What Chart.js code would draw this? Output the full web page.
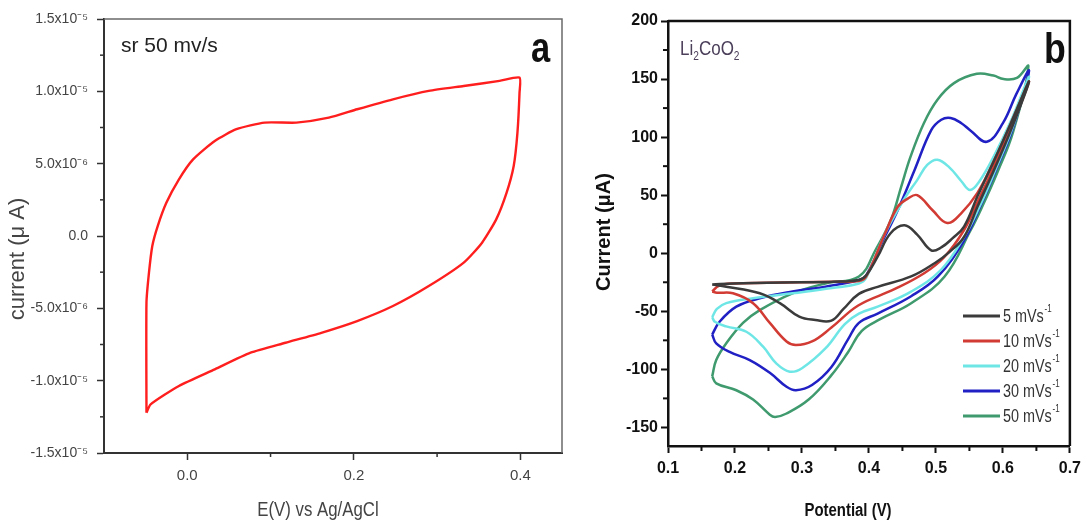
<!DOCTYPE html>
<html>
<head>
<meta charset="utf-8">
<title>Cyclic voltammetry</title>
<script src="https://cdn.jsdelivr.net/npm/chart.js@4.4.1/dist/chart.umd.min.js"></script>
<style>
  html, body { margin: 0; padding: 0; background: #fff; }
  body { position: relative; width: 1087px; height: 522px; overflow: hidden; }
  canvas { position: absolute; top: 0; }
  #cvA { left: 0; }
  #cvB { left: 580px; }
</style>
</head>
<body>
<canvas id="cvA" width="580" height="522"></canvas>
<canvas id="cvB" width="507" height="522"></canvas>
<script>
const SANS = "'Liberation Sans', Arial, sans-serif";

// ---- panel a : one cycle at 50 mV/s, potential (V) / current (A) ----
const potA = [-0.049, -0.049, -0.046, -0.042, -0.0355, -0.025, -0.01, 0.007, 0.033, 0.059, 0.093, 0.131,
  0.17, 0.204, 0.247, 0.29, 0.332, 0.375, 0.399, 0.399, 0.3965, 0.392, 0.3835, 0.371, 0.354, 0.332,
  0.29, 0.247, 0.204, 0.161, 0.118, 0.076, 0.033, -0.01, -0.044, -0.049];
const curA = [-12.22e-6, -4.61e-6, -2.54e-6, -0.69e-6, 0.69e-6, 2.31e-6, 3.92e-6, 5.3e-6, 6.57e-6, 7.38e-6, 7.84e-6, 7.84e-6,
  8.18e-6, 8.76e-6, 9.45e-6, 10.03e-6, 10.37e-6, 10.72e-6, 10.95e-6, 9.91e-6, 7.15e-6, 4.84e-6, 3.0e-6, 1.15e-6, -0.46e-6, -1.84e-6,
  -3.46e-6, -4.84e-6, -5.88e-6, -6.69e-6, -7.38e-6, -8.07e-6, -9.22e-6, -10.37e-6, -11.64e-6, -12.22e-6];

const aXTicks = [0, 0.1, 0.2, 0.3, 0.4];
const aXLabels = ['0.0', '', '0.2', '', '0.4'];
const aYTicks = [-15e-6, -12.5e-6, -10e-6, -7.5e-6, -5e-6, -2.5e-6, 0, 2.5e-6, 5e-6, 7.5e-6, 10e-6, 12.5e-6, 15e-6];
const aYLabels = ['-1.5x10⁻⁵', '', '-1.0x10⁻⁵', '', '-5.0x10⁻⁶', '', '0.0', '', '5.0x10⁻⁶', '', '1.0x10⁻⁵', '', '1.5x10⁻⁵'];

// ---- panel b : Li2CoO2 at five scan rates, potential (V) / current (uA) ----
const rates = ['5', '10', '20', '30', '50'];
const rateColors = ['#3b3b3b', '#d23b33', '#6fe6e6', '#2020c4', '#3f9a6e'];

const pot5 = [0.166, 0.198, 0.248, 0.297, 0.347, 0.385, 0.396, 0.413, 0.432, 0.453, 0.472, 0.493, 0.508, 0.525, 0.542, 0.562, 0.587, 0.612, 0.639,
  0.612, 0.587, 0.562, 0.542, 0.52, 0.498, 0.463, 0.413, 0.385, 0.362, 0.344, 0.32, 0.296, 0.267, 0.237, 0.187, 0.166];
const cur5 = [-27, -26, -25.5, -25, -24.5, -23, -19, -3, 17, 24, 16, 2.5, 5, 13, 23, 49, 80, 112, 148,
  106, 72, 40, 14, 1, -8.6, -20, -29, -35, -48, -58, -57.5, -54.6, -43, -34.5, -28.8, -27];

const pot10 = [0.166, 0.176, 0.198, 0.248, 0.297, 0.347, 0.385, 0.396, 0.424, 0.443, 0.458, 0.472, 0.495, 0.517, 0.537, 0.562, 0.587, 0.612, 0.639,
  0.612, 0.587, 0.562, 0.542, 0.513, 0.483, 0.438, 0.384, 0.344, 0.315, 0.291, 0.277, 0.252, 0.227, 0.197, 0.173, 0.166];
const cur10 = [-33, -28, -26, -25.5, -25, -24.5, -24, -20, 17, 40, 47, 50, 37, 26, 34, 52, 80, 112, 148,
  108, 75, 44, 20, -3, -17, -31, -45, -64, -76, -79, -76, -60, -43, -34.5, -34, -33];

const pot20 = [0.166, 0.173, 0.187, 0.227, 0.286, 0.345, 0.385, 0.396, 0.424, 0.453, 0.472, 0.487, 0.502, 0.52, 0.538, 0.551, 0.565, 0.587, 0.612, 0.639,
  0.613, 0.589, 0.565, 0.542, 0.508, 0.463, 0.413, 0.385, 0.364, 0.335, 0.3, 0.282, 0.262, 0.242, 0.217, 0.187, 0.17, 0.166];
const cur20 = [-55, -48, -43, -38.8, -34.5, -30, -26, -21, 17, 47, 63, 76, 80.5, 74, 62, 54.5, 62, 84, 114, 152,
  106, 72, 40, 14, -14, -33, -46, -52, -61, -82, -99, -102, -95, -80.5, -67.6, -63, -59, -55];

const pot30 = [0.166, 0.177, 0.202, 0.237, 0.286, 0.335, 0.385, 0.396, 0.42, 0.443, 0.468, 0.493, 0.508, 0.522, 0.538, 0.551, 0.576, 0.6, 0.62, 0.639,
  0.614, 0.59, 0.566, 0.542, 0.503, 0.463, 0.413, 0.385, 0.369, 0.344, 0.315, 0.291, 0.277, 0.252, 0.222, 0.192, 0.172, 0.166];
const cur30 = [-70, -59, -46, -38.8, -33, -28.8, -23, -19, 10, 37, 71.5, 106, 115, 116.5, 112, 106, 96, 112, 137, 157,
  106, 72, 40, 11, -20, -37, -52, -60, -74, -98, -113.5, -118, -115, -103, -92, -85, -77.6, -70];

const pot50 = [0.166, 0.172, 0.187, 0.212, 0.237, 0.286, 0.335, 0.385, 0.41, 0.433, 0.448, 0.462, 0.482, 0.502, 0.527, 0.561, 0.586, 0.601, 0.621, 0.638,
  0.615, 0.592, 0.569, 0.552, 0.513, 0.463, 0.416, 0.389, 0.369, 0.344, 0.31, 0.277, 0.26, 0.252, 0.227, 0.202, 0.172, 0.166];
const cur50 = [-106, -92, -77.6, -60, -49, -34.5, -26, -20, 3, 29, 57, 83, 112, 132, 146.5, 154.5, 153, 150, 151, 161,
  104, 70, 40, 20, -20, -43, -57, -67, -85, -105, -126, -138, -141, -139, -126, -118, -112, -106];

const bXTicks = [0.1, 0.15, 0.2, 0.25, 0.3, 0.35, 0.4, 0.45, 0.5, 0.55, 0.6, 0.65, 0.7];
const bXLabels = ['0.1', '', '0.2', '', '0.3', '', '0.4', '', '0.5', '', '0.6', '', '0.7'];
const bYTicks = [-150, -125, -100, -75, -50, -25, 0, 25, 50, 75, 100, 125, 150, 175, 200];
const bYLabels = ['-150', '', '-100', '', '-50', '', '0', '', '50', '', '100', '', '150', '', '200'];

function points(xs, ys) { return xs.map((x, k) => ({ x: x, y: ys[k] })); }

// linear axis with a fixed tick list and a fixed thickness so the plot box lands where we want it.
// only labelled (major) ticks are stroked by the library, the short minor ones come from drawMinor()
function axis(o) {
  return {
    type: 'linear', min: o.min, max: o.max,
    afterBuildTicks: s => { s.ticks = o.ticks.map(v => ({ value: v })); },
    afterFit: s => { if (s.isHorizontal()) s.height = o.size; else s.width = o.size; },
    grid: {
      drawOnChartArea: false, drawTicks: true, tickLength: 7, tickWidth: o.tickWidth,
      tickColor: c => (o.labels[c.index] ? o.color : 'rgba(0,0,0,0)')
    },
    border: { display: true, color: o.color, width: o.lineWidth },
    ticks: {
      autoSkip: false, maxRotation: 0, minRotation: 0, padding: o.pad,
      color: o.textColor, font: o.font,
      callback: (v, i) => o.labels[i]
    }
  };
}

function drawMinor(chart, len, color, width) {
  const ctx = chart.ctx;
  ctx.save();
  ctx.strokeStyle = color;
  ctx.lineWidth = width;
  ['x', 'y'].forEach(id => {
    const s = chart.scales[id];
    s.ticks.forEach(t => {
      if (t.label) return;
      const p = s.getPixelForValue(t.value);
      ctx.beginPath();
      if (s.isHorizontal()) { ctx.moveTo(p, s.top); ctx.lineTo(p, s.top + len); }
      else { ctx.moveTo(s.right, p); ctx.lineTo(s.right - len, p); }
      ctx.stroke();
    });
  });
  ctx.restore();
}

// horizontally condensed text (the figure's fonts are narrow)
function narrowText(ctx, text, x, y, sx) {
  ctx.save();
  ctx.translate(x, y);
  ctx.scale(sx, 1);
  ctx.fillText(text, 0, 0);
  ctx.restore();
}

// condensed text followed by a small raised part, e.g. mVs^-1
function supText(ctx, base, sup, x, y, size, sx) {
  ctx.save();
  ctx.translate(x, y);
  ctx.scale(sx, 1);
  ctx.font = size + 'px ' + SANS;
  ctx.fillText(base, 0, 0);
  const w = ctx.measureText(base).width;
  ctx.font = Math.round(size * 0.55) + 'px ' + SANS;
  ctx.fillText(sup, w + 1, -size * 0.42);
  ctx.restore();
}

const panelA = {
  id: 'panelA',
  afterDraw(chart) {
    const { ctx, chartArea: ca } = chart;
    drawMinor(chart, 4, '#333', 1.5);
    ctx.save();
    ctx.strokeStyle = '#6a6a6a';
    ctx.lineWidth = 1.5;
    ctx.beginPath();
    ctx.moveTo(ca.left, ca.top);
    ctx.lineTo(ca.right, ca.top);
    ctx.lineTo(ca.right, ca.bottom);
    ctx.stroke();

    ctx.textBaseline = 'alphabetic';
    ctx.fillStyle = '#222';
    ctx.font = '21px ' + SANS;
    ctx.fillText('sr 50 mv/s', 121, 52);
    ctx.fillStyle = '#111';
    ctx.font = 'bold 42px ' + SANS;
    narrowText(ctx, 'a', 531, 62, 0.82);

    ctx.fillStyle = '#444';
    ctx.textAlign = 'center';
    ctx.textBaseline = 'middle';
    ctx.font = '21px ' + SANS;
    narrowText(ctx, 'E(V) vs Ag/AgCl', 318, 510, 0.8);
    ctx.translate(18, 259);
    ctx.rotate(-Math.PI / 2);
    ctx.font = '22px ' + SANS;
    ctx.fillText('current (μ A)', 0, 0);
    ctx.restore();
  }
};

const panelB = {
  id: 'panelB',
  afterDraw(chart) {
    const { ctx, chartArea: ca } = chart;
    drawMinor(chart, 5, '#111', 2);
    ctx.save();
    ctx.strokeStyle = '#111';
    ctx.lineWidth = 2.5;
    ctx.beginPath();
    ctx.moveTo(ca.left, ca.top);
    ctx.lineTo(ca.right, ca.top);
    ctx.lineTo(ca.right, ca.bottom);
    ctx.stroke();

    // compound name with subscripts
    ctx.textBaseline = 'alphabetic';
    ctx.fillStyle = '#4b3f5a';
    ctx.save();
    ctx.translate(100, 55);
    ctx.scale(0.85, 1);
    let x = 0;
    [['Li', 0], ['2', 1], ['CoO', 0], ['2', 1]].forEach(([t, sub]) => {
      ctx.font = (sub ? 12 : 20) + 'px ' + SANS;
      ctx.fillText(t, x, sub ? 5 : 0);
      x += ctx.measureText(t).width;
    });
    ctx.restore();

    ctx.fillStyle = '#111';
    ctx.font = 'bold 42px ' + SANS;
    narrowText(ctx, 'b', 464, 63, 0.85);

    // legend
    rates.forEach((r, k) => {
      const y = 316 + k * 25;
      ctx.strokeStyle = rateColors[k];
      ctx.lineWidth = 3;
      ctx.beginPath();
      ctx.moveTo(383, y);
      ctx.lineTo(420, y);
      ctx.stroke();
      ctx.fillStyle = '#333';
      ctx.textBaseline = 'middle';
      supText(ctx, r + ' mVs', '-1', 423, y + 1, 18, 0.8);
    });

    ctx.fillStyle = '#111';
    ctx.textAlign = 'center';
    ctx.textBaseline = 'middle';
    ctx.font = 'bold 18px ' + SANS;
    narrowText(ctx, 'Potential (V)', 268, 511, 0.83);
    ctx.translate(24, 232);
    ctx.rotate(-Math.PI / 2);
    ctx.font = 'bold 20px ' + SANS;
    ctx.fillText('Current (μA)', 0, 0);
    ctx.restore();
  }
};

new Chart(document.getElementById('cvA'), {
  type: 'scatter',
  data: {
    datasets: [{
      data: points(potA, curA),
      showLine: true, borderColor: '#ff1e1e', borderWidth: 2.4,
      pointRadius: 0, tension: 0.2
    }]
  },
  options: {
    responsive: false, animation: false,
    layout: { padding: { left: 0, top: 19, right: 18, bottom: 0 } },
    plugins: { legend: { display: false }, tooltip: { enabled: false } },
    scales: {
      x: axis({ min: -0.1, max: 0.45, ticks: aXTicks, labels: aXLabels, size: 69, color: '#333', lineWidth: 2, tickWidth: 1.5,
        pad: 7, textColor: '#444', font: { family: SANS, size: 15 } }),
      y: axis({ min: -15e-6, max: 15e-6, ticks: aYTicks, labels: aYLabels, size: 104, color: '#333', lineWidth: 2, tickWidth: 1.5,
        pad: 9, textColor: '#444', font: { family: SANS, size: 14 } })
    }
  },
  plugins: [panelA]
});

const bSeries = [[pot5, cur5], [pot10, cur10], [pot20, cur20], [pot30, cur30], [pot50, cur50]];

new Chart(document.getElementById('cvB'), {
  type: 'scatter',
  data: {
    datasets: bSeries.map(([p, c], k) => ({
      label: rates[k] + ' mV/s',
      data: points(p, c),
      showLine: true, borderColor: rateColors[k], borderWidth: 2.5,
      pointRadius: 0, tension: 0.4
    }))
  },
  options: {
    responsive: false, animation: false,
    layout: { padding: { left: 0, top: 21, right: 13, bottom: 0 } },
    plugins: { legend: { display: false }, tooltip: { enabled: false } },
    scales: {
      x: axis({ min: 0.1, max: 0.7, ticks: bXTicks, labels: bXLabels, size: 76, color: '#111', lineWidth: 2.5, tickWidth: 2,
        pad: 6, textColor: '#111', font: { family: SANS, size: 16, weight: 'bold' } }),
      y: axis({ min: -166, max: 200, ticks: bYTicks, labels: bYLabels, size: 88, color: '#111', lineWidth: 2.5, tickWidth: 2,
        pad: 3, textColor: '#111', font: { family: SANS, size: 16, weight: 'bold' } })
    }
  },
  plugins: [panelB]
});
</script>
</body>
</html>
